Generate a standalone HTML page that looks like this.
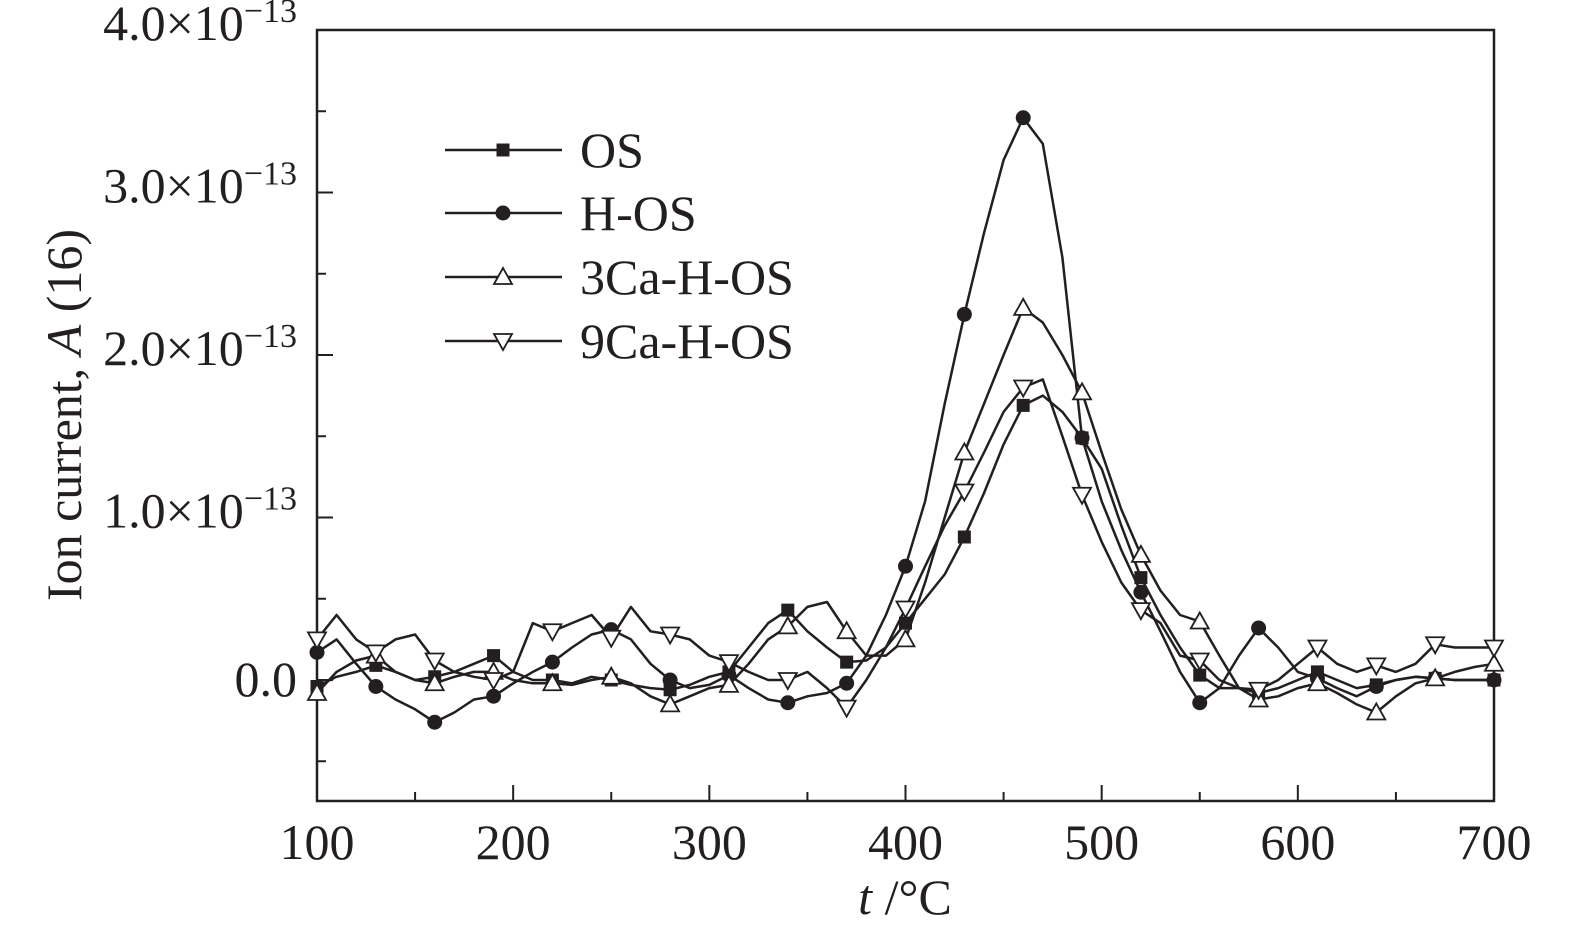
<!DOCTYPE html>
<html><head><meta charset="utf-8"><style>
body{margin:0;background:#fff}
svg text{font-family:"Liberation Serif",serif;fill:#231f20}
</style></head><body>
<svg id="chart" width="1575" height="937" xmlns="http://www.w3.org/2000/svg"></svg>
<script>
const temps=[];for(let t=100;t<=700;t+=10)temps.push(t);
const seriesNames=["OS","H-OS","3Ca-H-OS","9Ca-H-OS"];
const osValues=[-0.04,0.02,0.05,0.09,0.05,0.0,0.02,0.05,0.1,0.15,0.05,0.0,0.0,-0.02,0.02,0.0,-0.03,-0.05,-0.06,-0.03,0.02,0.05,0.2,0.35,0.43,0.3,0.2,0.11,0.12,0.2,0.35,0.5,0.65,0.88,1.15,1.45,1.69,1.75,1.65,1.49,1.3,0.95,0.63,0.4,0.2,0.03,-0.05,-0.05,-0.08,-0.05,0.0,0.05,0.0,-0.05,-0.03,0.0,0.02,0.01,0.0,0.0,0.0];
const hosValues=[0.17,0.25,0.1,-0.04,-0.12,-0.18,-0.26,-0.2,-0.12,-0.1,-0.02,0.05,0.11,0.2,0.28,0.31,0.25,0.1,0.0,-0.05,-0.03,0.03,-0.05,-0.12,-0.14,-0.1,-0.08,-0.02,0.15,0.4,0.7,1.1,1.7,2.25,2.75,3.2,3.46,3.3,2.6,1.49,1.1,0.8,0.54,0.3,0.05,-0.14,-0.05,0.15,0.32,0.2,0.05,0.01,-0.05,-0.1,-0.04,0.0,0.02,0.01,0.0,0.0,0.0];
const ca3Values=[-0.08,0.05,0.12,0.15,0.05,0.0,-0.02,0.02,0.05,0.05,0.0,-0.02,-0.02,-0.03,0.0,0.02,-0.02,-0.1,-0.15,-0.1,-0.05,-0.03,0.1,0.25,0.33,0.45,0.48,0.3,0.15,0.15,0.25,0.6,1.0,1.4,1.7,2.0,2.29,2.2,2.0,1.77,1.4,1.05,0.77,0.55,0.4,0.36,0.15,-0.05,-0.12,-0.1,-0.05,-0.02,-0.08,-0.15,-0.2,-0.1,-0.02,0.01,0.05,0.08,0.1];
const ca9Values=[0.25,0.4,0.25,0.17,0.25,0.28,0.12,0.05,0.02,0.0,0.05,0.35,0.3,0.35,0.4,0.26,0.45,0.3,0.28,0.25,0.15,0.11,0.05,0.0,0.0,0.05,-0.05,-0.17,0.0,0.2,0.44,0.7,0.95,1.16,1.4,1.65,1.8,1.85,1.5,1.14,0.85,0.6,0.43,0.35,0.15,0.12,0.0,-0.05,-0.06,0.0,0.1,0.2,0.1,0.05,0.09,0.05,0.1,0.22,0.2,0.2,0.2];
const xTicks=[100,200,300,400,500,600,700];
const yTicks=[0,1,2,3,4];
const yTickLabels=["0.0","1.0","2.0","3.0","4.0"];

const svg=document.getElementById('chart');
const NS="http://www.w3.org/2000/svg";
const L=317,R=1494,T=30,B=801;
const X=t=>L+(t-100)*(R-L)/600;
const Y=v=>680-v*162.5;
function mk(tag,attrs,parent){const e=document.createElementNS(NS,tag);for(const k in attrs)e.setAttribute(k,attrs[k]);(parent||svg).appendChild(e);return e;}

const frame=mk('rect',{x:L,y:T,width:R-L,height:B-T,fill:'none',stroke:'#231f20','stroke-width':2.5});



for(let t=100;t<=700;t+=50){
  const major=t%100===0;
  const tk=mk('line',{x1:X(t),x2:X(t),y1:B,y2:B-(major?16:9),stroke:'#231f20','stroke-width':2});
  
  
}
xTicks.forEach(t=>{
  const tx=mk('text',{x:X(t),y:859,'font-size':50,'text-anchor':'middle'});tx.textContent=t;
  
  
});
for(let v=-0.5;v<=4;v+=0.5){
  const major=Math.abs(v-Math.round(v))<1e-9;
  const tk=mk('line',{x1:L,x2:L+(major?16:9),y1:Y(v),y2:Y(v),stroke:'#231f20','stroke-width':2});
  
  
}
yTicks.forEach((v,i)=>{
  const tx=mk('text',{x:297,y:Y(v)+16,'font-size':50,'text-anchor':'end'});
  if(v===0){tx.textContent=yTickLabels[i];}
  else{
    tx.setAttribute('y',Y(v)+10);
    const a=mk('tspan',{},tx);a.textContent=yTickLabels[i]+"×10";
    const b=mk('tspan',{dy:-18,'font-size':34},tx);b.textContent="−13";
  }
  
  
});
const xt=mk('text',{x:905,y:914,'font-size':50,'text-anchor':'middle'});
const xi=mk('tspan',{'font-style':'italic'},xt);xi.textContent="t";
const xr=mk('tspan',{},xt);xr.textContent=" /°C";


const yt=mk('text',{x:0,y:0,'font-size':50,'text-anchor':'middle',transform:'translate(81,415) rotate(-90)'});
const y1=mk('tspan',{},yt);y1.textContent="Ion current, ";
const y2=mk('tspan',{'font-style':'italic'},yt);y2.textContent="A";
const y3=mk('tspan',{},yt);y3.textContent=" (16)";



function marker(kind,x,y,g){
  let e;
  if(kind==='square')e=mk('rect',{x:x-6.5,y:y-6.5,width:13,height:13,fill:'#231f20'},g);
  else if(kind==='circle')e=mk('circle',{cx:x,cy:y,r:7.5,fill:'#231f20'},g);
  else if(kind==='up')e=mk('polygon',{points:`${x},${y-9} ${x-9},${y+7} ${x+9},${y+7}`,fill:'#fff',stroke:'#231f20','stroke-width':1.8},g);
  else e=mk('polygon',{points:`${x},${y+9} ${x-9},${y-7} ${x+9},${y-7}`,fill:'#fff',stroke:'#231f20','stroke-width':1.8},g);
  
  
}
const allSeries=[osValues,hosValues,ca3Values,ca9Values];
const kinds=['square','circle','up','down'];
const slugs=['os','h-os','3ca-h-os','9ca-h-os'];
allSeries.forEach((vals,si)=>{
  const g=mk('g',{});
  
  
  const d=vals.map((v,i)=>(i?'L':'M')+X(temps[i]).toFixed(1)+','+Y(v).toFixed(1)).join(' ');
  const p=mk('path',{d:d,fill:'none',stroke:'#231f20','stroke-width':2.5,'stroke-linejoin':'round'},g);
  
  
  vals.forEach((v,i)=>{if(i%3===0)marker(kinds[si],X(temps[i]),Y(v),g);});
});
const legendY=[150,213,277,341];
seriesNames.forEach((n,i)=>{
  const g=mk('g',{});
  
  
  const ln=mk('line',{x1:445,x2:562,y1:legendY[i],y2:legendY[i],stroke:'#231f20','stroke-width':2.5},g);
  
  
  marker(kinds[i],503,legendY[i],g);
  const tx=mk('text',{x:580,y:legendY[i]+17,'font-size':50},g);tx.textContent=n;
  
  
});
</script>
</body></html>
